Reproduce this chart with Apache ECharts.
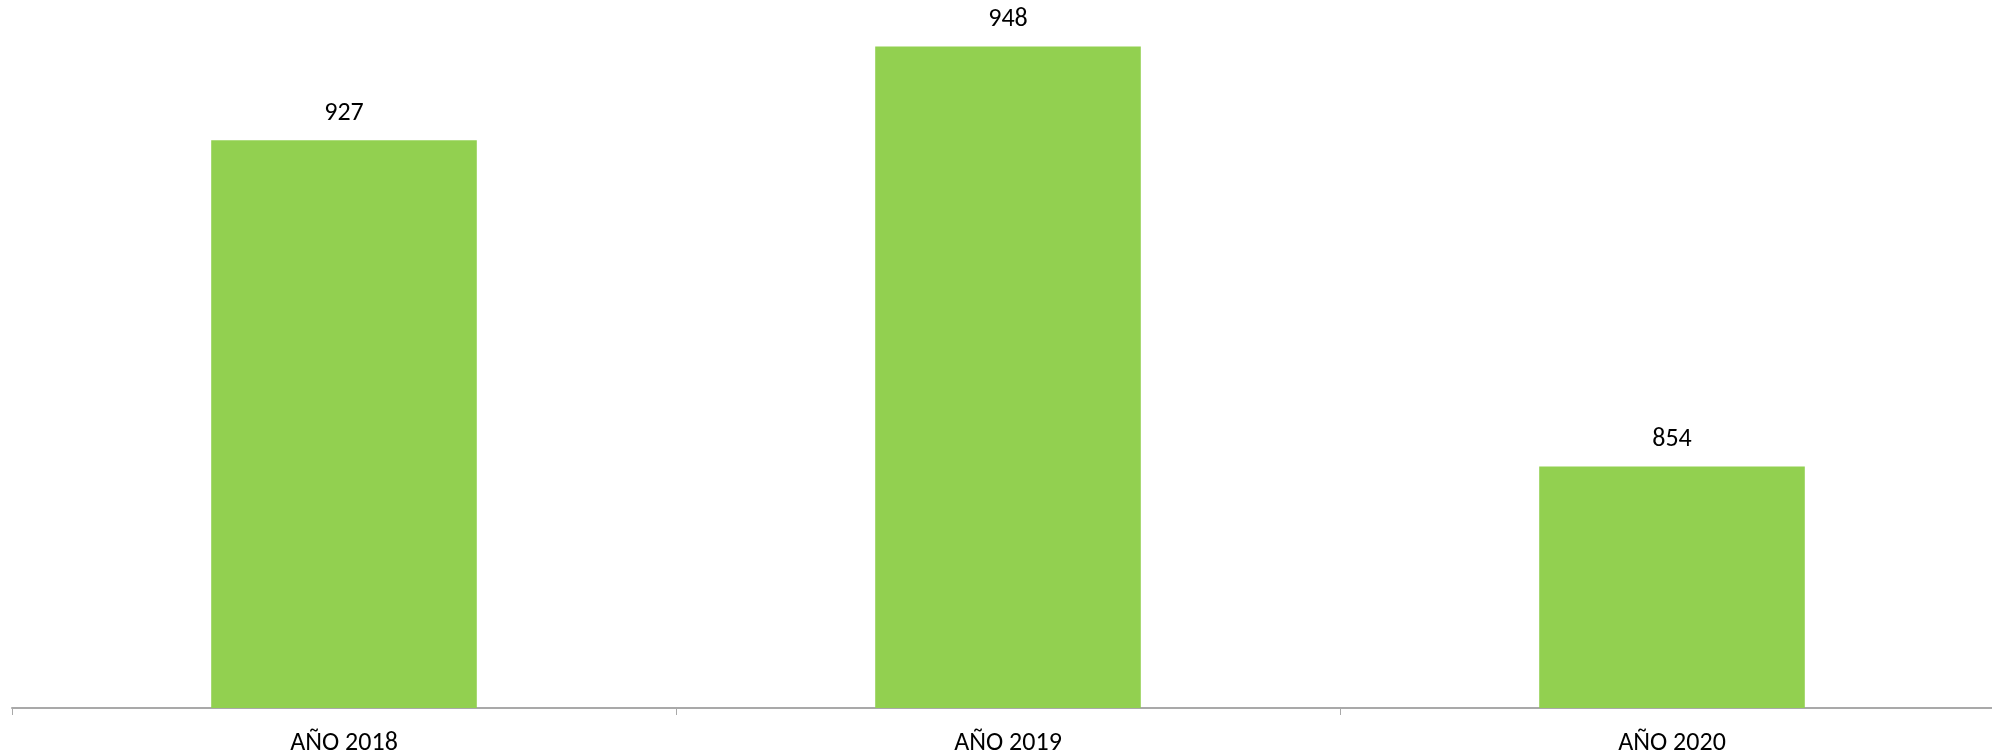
<!DOCTYPE html>
<html>
<head>
<meta charset="utf-8">
<script src="https://cdn.jsdelivr.net/npm/echarts@6/dist/echarts.min.js"></script>
<style>html,body{margin:0;padding:0;background:#fff;}#c{width:1992px;height:756px;}</style>
</head>
<body>
<div id="c"></div>
<script>
const categories = ['AÑO 2018', 'AÑO 2019', 'AÑO 2020'];
const values = [927, 948, 854];

const chart = echarts.init(document.getElementById('c'), null, {renderer: 'canvas'});
const font = 'Carlito, "Open Sans", "Noto Sans", sans-serif';
chart.setOption({
  animation: false,
  backgroundColor: '#ffffff',
  grid: {left: 12, width: 1992, top: 37.5, bottom: 48, containLabel: false, outerBoundsMode: 'none'},
  xAxis: {
    type: 'category',
    data: categories,
    axisLine: {show: true, lineStyle: {color: '#a9a9a9', width: 2}},
    axisTick: {show: true, length: 7, alignWithLabel: false, lineStyle: {color: '#a9a9a9', width: 1}},
    axisLabel: {color: '#000', fontSize: 26, fontFamily: font, margin: 22}
  },
  yAxis: {
    type: 'value',
    min: 800,
    max: 950,
    show: false,
    splitLine: {show: false}
  },
  series: [{
    type: 'bar',
    data: values,
    barWidth: '40%',
    itemStyle: {color: '#92d050'},
    label: {show: true, position: 'top', distance: 14, color: '#000', fontSize: 26, fontFamily: font}
  }]
});
</script>
</body>
</html>
